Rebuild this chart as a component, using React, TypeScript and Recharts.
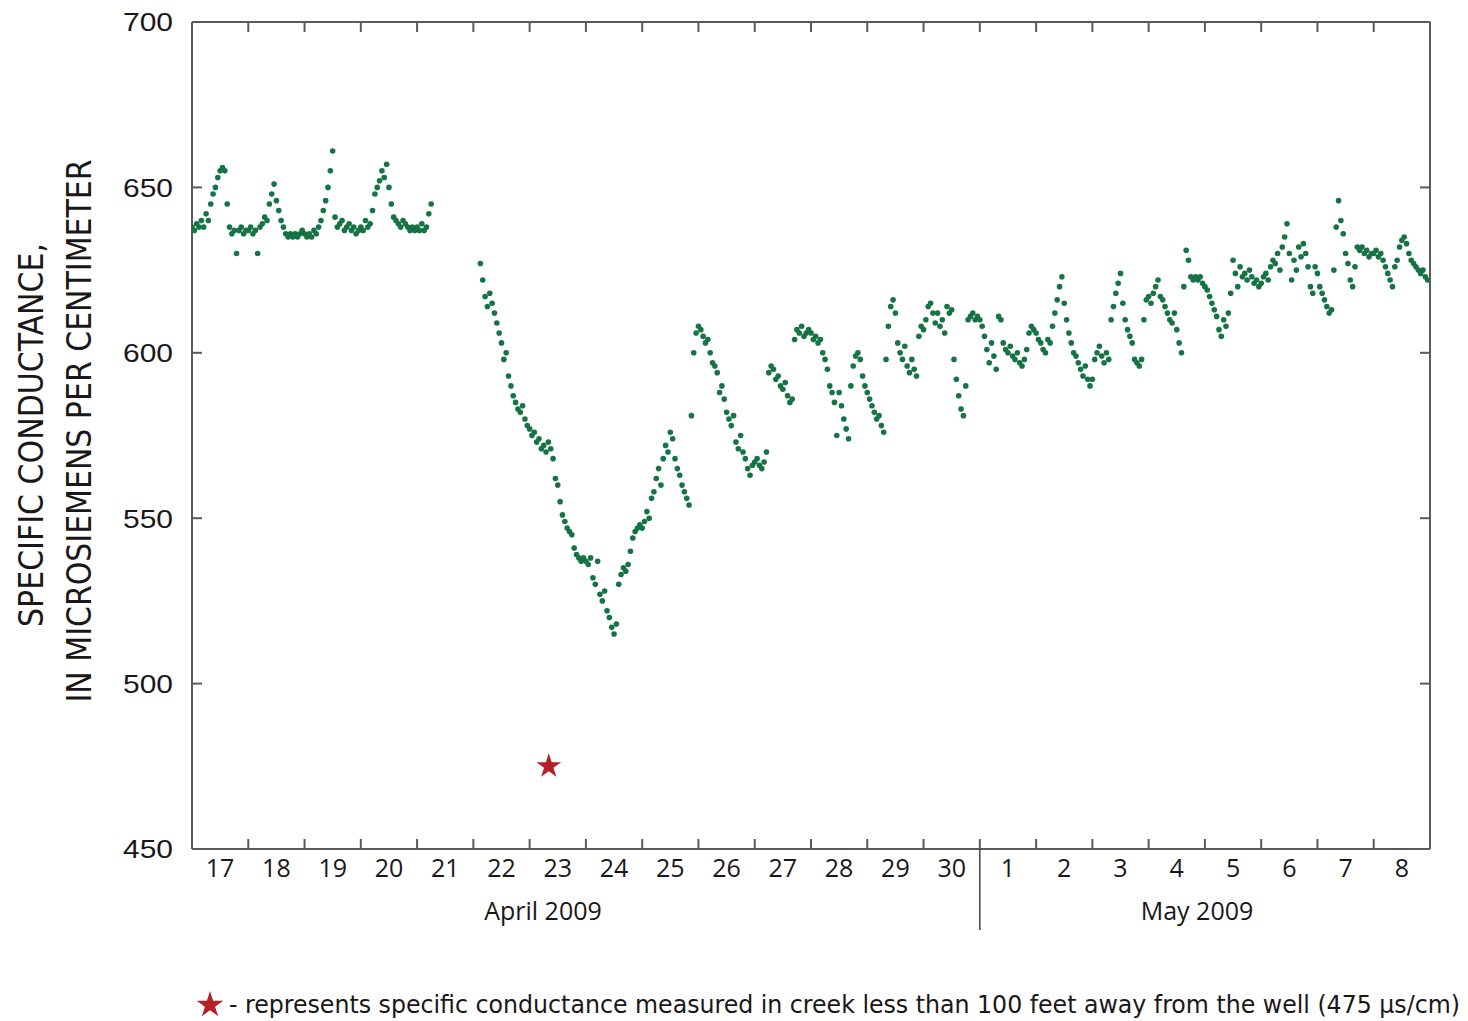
import { ScatterChart, Scatter, XAxis, YAxis, Symbols } from "recharts";

// hourly specific conductance readings, one array per day (null = no record)
const apr17 = [638, 637, 639, 638, 640, 638, 642, 640, 645, 648, 650, 653, 655, 656, 655, 645, 638, 636, 637, 630, 637, 638, 636, 637];
const apr18 = [637, 638, 636, 637, 630, 638, 639, 641, 640, 645, 648, 651, 646, 643, 640, 638, 636, 635, 636, 635, 636, 635, 636, 637];
const apr19 = [636, 635, 636, 635, 637, 636, 638, 640, 643, 646, 650, 655, 661, 641, 638, 639, 640, 637, 638, 639, 637, 638, 636, 637];
const apr20 = [638, 637, 640, 638, 639, 643, 648, 650, 652, 655, 653, 657, 650, 645, 641, 640, 639, 638, 640, 639, 638, 637, 638, 637];
const apr21 = [638, 637, 639, 637, 638, 642, 645, null, null, null, null, null, null, null, null, null, null, null, null, null, null, null, null, null];
const apr22 = [null, null, null, 627, 622, 617, 614, 618, 615, 612, 609, 606, 603, 598, 600, 593, 590, 587, 585, 583, 582, 584, 580, 578];
const apr23 = [577, 575, 576, 573, 574, 571, 572, 570, 573, 571, 568, 562, 560, 555, 551, 549, 547, 546, 545, 541, 539, 538, 537, 538];
const apr24 = [537, 536, 538, 532, 530, 537, 527, 525, 528, 522, 520, 517, 515, 518, 530, 533, 535, 534, 536, 540, 544, 546, 547, 548];
const apr25 = [547, 549, 552, 550, 556, 558, 562, 565, 560, 568, 572, 570, 576, 574, 568, 565, 563, 560, 558, 556, 554, 581, 600, 606];
const apr26 = [608, 607, 605, 603, 604, 600, 597, 596, 594, 588, 590, 586, 582, 580, 578, 581, 573, 571, 575, 570, 568, 565, 563, 566];
const apr27 = [567, 568, 566, 565, 567, 570, 594, 596, 595, 592, 593, 590, 589, 591, 587, 585, 586, 604, 607, 606, 608, 605, 606, 607];
const apr28 = [606, 604, 605, 603, 604, 600, 598, 595, 590, 588, 585, 575, 588, 584, 580, 577, 574, 590, 596, 599, 600, 598, 593, 590];
const apr29 = [588, 586, 584, 582, 580, 581, 578, 576, 598, 608, 614, 616, 612, 603, 600, 598, 602, 596, 594, 598, 595, 593, 605, 608];
const apr30 = [607, 610, 614, 615, 612, 609, 612, 608, 610, 606, 614, 612, 613, 598, 592, 587, 583, 581, 590, 610, 611, 612, 610, 611];
const may1 = [610, 608, 605, 601, 597, 603, 599, 595, 611, 610, 603, 601, 600, 602, 599, 598, 600, 597, 596, 598, 601, 606, 608, 607];
const may2 = [606, 604, 603, 601, 600, 604, 603, 608, 612, 616, 620, 623, 615, 610, 606, 603, 600, 599, 597, 595, 593, 596, 592, 590];
const may3 = [592, 598, 600, 602, 599, 597, 600, 598, 610, 614, 618, 621, 624, 615, 610, 607, 605, 603, 598, 597, 596, 598, 610, 616];
const may4 = [617, 615, 618, 620, 622, 617, 616, 614, 612, 610, 609, 612, 607, 603, 600, 620, 631, 628, 623, 622, 623, 622, 623, 621];
const may5 = [620, 619, 617, 615, 613, 611, 607, 605, 610, 608, 612, 618, 628, 624, 620, 626, 623, 624, 622, 625, 623, 621, 622, 620];
const may6 = [621, 623, 624, 622, 626, 628, 627, 630, 625, 632, 635, 639, 630, 622, 628, 625, 632, 629, 633, 630, 626, 620, 618, 626];
const may7 = [624, 620, 618, 616, 614, 612, 613, 625, 638, 646, 640, 636, 630, 627, 622, 620, 626, 632, 631, 632, 630, 631, 629, 630];
const may8 = [630, 631, 629, 630, 628, 626, 624, 622, 620, 626, 628, 632, 634, 635, 633, 630, 628, 627, 626, 625, 624, 625, 623, 622];

const days = [apr17, apr18, apr19, apr20, apr21, apr22, apr23, apr24, apr25, apr26, apr27, apr28, apr29, apr30,
  may1, may2, may3, may4, may5, may6, may7, may8];
const dayLabels = ["17", "18", "19", "20", "21", "22", "23", "24", "25", "26", "27", "28", "29", "30",
  "1", "2", "3", "4", "5", "6", "7", "8"];
const yTicks = [450, 500, 550, 600, 650, 700];

// creek measurement (day offset from Apr 17 00:00, value)
const creek = [{ t: 6.34, v: 475 }];

const W = 1468;
const H = 1021;
const PLOT = { left: 192, top: 22, right: 1430, bottom: 849 };
const DAYS = days.length;
const DAY_W = (PLOT.right - PLOT.left) / DAYS;
const GREEN = "#167343";
const RED = "#b3222a";
const INK = "#1a1718";
const FRAME = "#5a5a5a";

const points: { t: number; v: number }[] = [];
days.forEach((vals, d) => {
  vals.forEach((v, h) => {
    if (v != null) points.push({ t: d + h / 24, v });
  });
});
const dayTicks = Array.from({ length: DAYS + 1 }, (_, i) => i);

function DayTick(props: any) {
  const { x, y, payload } = props;
  if (payload.value >= DAYS) return <g />;
  return (
    <text x={x + DAY_W / 2} y={y} dy="0.71em" textAnchor="middle" fontSize={25}
      fontFamily="'Open Sans', sans-serif" fill={INK}>
      {dayLabels[payload.value]}
    </text>
  );
}

function ValueTick(props: any) {
  const { x, y, payload } = props;
  return (
    <text x={x} y={y} dy="0.36em" textAnchor="end" fontSize={26}
      fontFamily="'Liberation Sans', Arial, sans-serif" fill={INK}
      textLength={50} lengthAdjust="spacingAndGlyphs">
      {payload.value}
    </text>
  );
}

const Dot = (p: any) => <circle cx={p.cx} cy={p.cy} r={2.8} fill={GREEN} />;
const Star = (p: any) => <Symbols type="star" size={190} cx={p.cx} cy={p.cy} fill={RED} />;
const Empty = () => <g />;

export default function App() {
  const monthX = PLOT.left + 14 * DAY_W;
  const narrow = "'Liberation Sans Narrow', 'DejaVu Sans Condensed', sans-serif";
  return (
    <div style={{ position: "absolute", left: 0, top: 0, width: W, height: H, background: "#fff" }}>
      <ScatterChart width={W} height={H}
        margin={{ top: PLOT.top - 1, right: W - PLOT.right - 1, left: PLOT.left - 100, bottom: H - PLOT.bottom - 60 }}>
        <XAxis xAxisId="bottom" dataKey="t" type="number" domain={[0, DAYS]} ticks={dayTicks}
          allowDataOverflow height={60} tickSize={-10} tickMargin={20} tick={DayTick}
          stroke={FRAME} strokeWidth={2} interval={0} />
        <XAxis xAxisId="top" orientation="top" dataKey="t" type="number" domain={[0, DAYS]} ticks={dayTicks}
          allowDataOverflow height={1} tickSize={-10} tick={Empty} stroke={FRAME} strokeWidth={2} interval={0} />
        <YAxis yAxisId="left" dataKey="v" type="number" domain={[450, 700]} ticks={yTicks}
          allowDataOverflow width={100} tickSize={-10} tickMargin={29} tick={ValueTick}
          stroke={FRAME} strokeWidth={2} interval={0} />
        <YAxis yAxisId="right" orientation="right" dataKey="v" type="number" domain={[450, 700]} ticks={yTicks}
          allowDataOverflow width={1} tickSize={-10} tick={Empty} stroke={FRAME} strokeWidth={2} interval={0} />
        <Scatter xAxisId="bottom" yAxisId="left" data={points} shape={Dot} isAnimationActive={false} />
        <Scatter xAxisId="bottom" yAxisId="left" data={creek} shape={Star} isAnimationActive={false} />
      </ScatterChart>
      <svg width={W} height={H} style={{ position: "absolute", left: 0, top: 0, pointerEvents: "none" }}>
        <text transform="translate(43,435) rotate(-90)" textAnchor="middle" fontSize={34} fontFamily={narrow}
          fill={INK} textLength={384} lengthAdjust="spacingAndGlyphs">SPECIFIC CONDUCTANCE,</text>
        <text transform="translate(91,431) rotate(-90)" textAnchor="middle" fontSize={34} fontFamily={narrow}
          fill={INK} textLength={543} lengthAdjust="spacingAndGlyphs">IN MICROSIEMENS PER CENTIMETER</text>
        <line x1={monthX} x2={monthX} y1={PLOT.bottom} y2={930} stroke="#444" strokeWidth={1.5} />
        <text x={543} y={920} textAnchor="middle" fontSize={25} fontFamily="'Open Sans', sans-serif" fill={INK}>April 2009</text>
        <text x={1197} y={920} textAnchor="middle" fontSize={25} fontFamily="'Open Sans', sans-serif" fill={INK}>May 2009</text>
        <Symbols type="star" size={220} cx={210} cy={1005} fill={RED} />
        <text x={229} y={1013} fontSize={25} fontFamily={narrow} fill={INK} textLength={1231} lengthAdjust="spacingAndGlyphs">
          - represents specific conductance measured in creek less than 100 feet away from the well (475 µs/cm)
        </text>
      </svg>
    </div>
  );
}
